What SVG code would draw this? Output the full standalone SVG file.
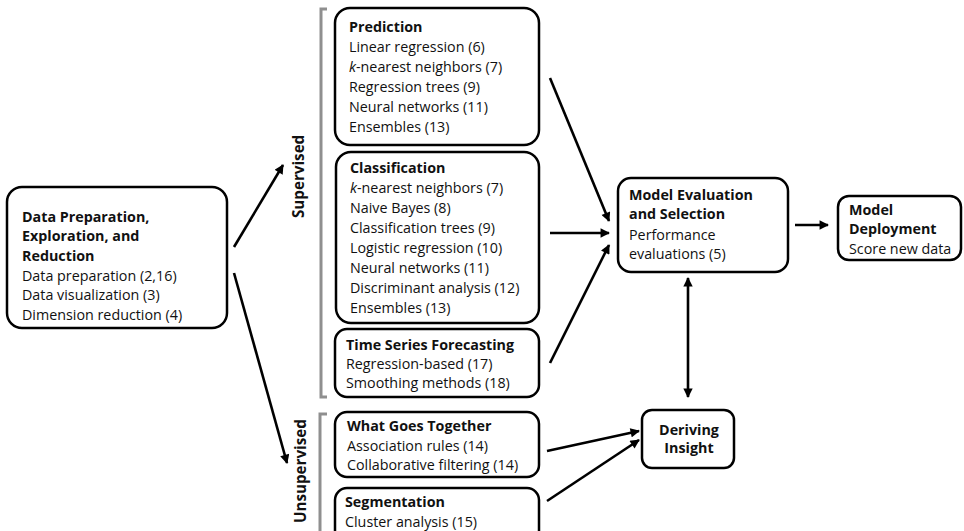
<svg xmlns="http://www.w3.org/2000/svg" width="964" height="531" viewBox="0 0 964 531">
<style>
text{font-family:"Open Sans","Noto Sans","DejaVu Sans",sans-serif;font-size:14.3px;fill:#111}
.b{font-weight:bold}
.lbl{font-weight:bold;font-size:15.2px}
.box{fill:#fff;stroke:#000;stroke-width:2.5}
.c{stroke:#000;stroke-width:2.6;fill:none}
.br{stroke:#8f8f8f;stroke-width:3;fill:none}
</style>
<defs>
<marker id="ah" viewBox="0 0 10 10" refX="9" refY="5" markerWidth="4" markerHeight="3.6" orient="auto-start-reverse" markerUnits="strokeWidth">
<path d="M0,0 L10,5 L0,10 z" fill="#000"/>
</marker>
</defs>
<g id="brackets">
<path class="br" d="M327,9 H321 V397 H327"/>
<path class="br" d="M327,414 H320 V535"/>
<text class="lbl" transform="translate(304,218) rotate(-90)">Supervised</text>
<text class="lbl" transform="translate(306,523) rotate(-90)">Unsupervised</text>
</g>
<g id="connectors">
<line class="c" x1="234" y1="247" x2="283" y2="165" marker-end="url(#ah)"/>
<line class="c" x1="234" y1="273" x2="287" y2="463" marker-end="url(#ah)"/>
<line class="c" x1="550" y1="78" x2="609" y2="221" marker-end="url(#ah)"/>
<line class="c" x1="550" y1="233" x2="609" y2="233" marker-end="url(#ah)"/>
<line class="c" x1="550" y1="363" x2="609" y2="245" marker-end="url(#ah)"/>
<line class="c" x1="795" y1="225" x2="828" y2="225" marker-end="url(#ah)"/>
<line class="c" x1="688" y1="278" x2="688" y2="397" marker-start="url(#ah)" marker-end="url(#ah)"/>
<line class="c" x1="547" y1="451" x2="639" y2="431" marker-end="url(#ah)"/>
<line class="c" x1="547" y1="501" x2="639" y2="440" marker-end="url(#ah)"/>
</g>
<g id="data-prep">
<rect class="box" x="7" y="187" width="220" height="141" rx="15"/>
<text class="b" x="22" y="222">Data Preparation,</text>
<text class="b" x="22" y="241">Exploration, and</text>
<text class="b" x="22" y="261">Reduction</text>
<text x="22" y="281">Data preparation (2,16)</text>
<text x="22" y="300">Data visualization (3)</text>
<text x="22" y="320">Dimension reduction (4)</text>
</g>
<g id="prediction">
<rect class="box" x="335" y="8" width="204" height="137" rx="15"/>
<text class="b" x="349" y="32">Prediction</text>
<text x="349" y="52">Linear regression (6)</text>
<text x="349" y="72"><tspan font-style="italic">k</tspan>-nearest neighbors (7)</text>
<text x="349" y="92">Regression trees (9)</text>
<text x="349" y="112">Neural networks (11)</text>
<text x="349" y="132">Ensembles (13)</text>
</g>
<g id="classification">
<rect class="box" x="336" y="152" width="203" height="171" rx="15"/>
<text class="b" x="350" y="173">Classification</text>
<text x="350" y="193"><tspan font-style="italic">k</tspan>-nearest neighbors (7)</text>
<text x="350" y="213">Naive Bayes (8)</text>
<text x="350" y="233">Classification trees (9)</text>
<text x="350" y="253">Logistic regression (10)</text>
<text x="350" y="273">Neural networks (11)</text>
<text x="350" y="293">Discriminant analysis (12)</text>
<text x="350" y="313">Ensembles (13)</text>
</g>
<g id="time-series">
<rect class="box" x="335" y="329" width="204" height="68" rx="12"/>
<text class="b" x="346" y="350">Time Series Forecasting</text>
<text x="346" y="369">Regression-based (17)</text>
<text x="346" y="388">Smoothing methods (18)</text>
</g>
<g id="what-goes-together">
<rect class="box" x="335" y="412" width="204" height="65" rx="12"/>
<text class="b" x="347" y="431">What Goes Together</text>
<text x="347" y="451">Association rules (14)</text>
<text x="347" y="470">Collaborative filtering (14)</text>
</g>
<g id="segmentation">
<rect class="box" x="335" y="488" width="204" height="60" rx="12"/>
<text class="b" x="345" y="507">Segmentation</text>
<text x="345" y="527">Cluster analysis (15)</text>
</g>
<g id="model-evaluation">
<rect class="box" x="618" y="178" width="170" height="94" rx="13"/>
<text class="b" x="629" y="200">Model Evaluation</text>
<text class="b" x="629" y="219">and Selection</text>
<text x="629" y="240">Performance</text>
<text x="629" y="259">evaluations (5)</text>
</g>
<g id="model-deployment">
<rect class="box" x="838" y="196" width="123" height="64" rx="11"/>
<text class="b" x="849" y="215">Model</text>
<text class="b" x="849" y="234">Deployment</text>
<text x="849" y="254">Score new data</text>
</g>
<g id="deriving-insight">
<rect class="box" x="642" y="410" width="92" height="58" rx="10"/>
<text class="b" x="689" y="435" text-anchor="middle">Deriving</text>
<text class="b" x="689" y="453" text-anchor="middle">Insight</text>
</g>
</svg>
